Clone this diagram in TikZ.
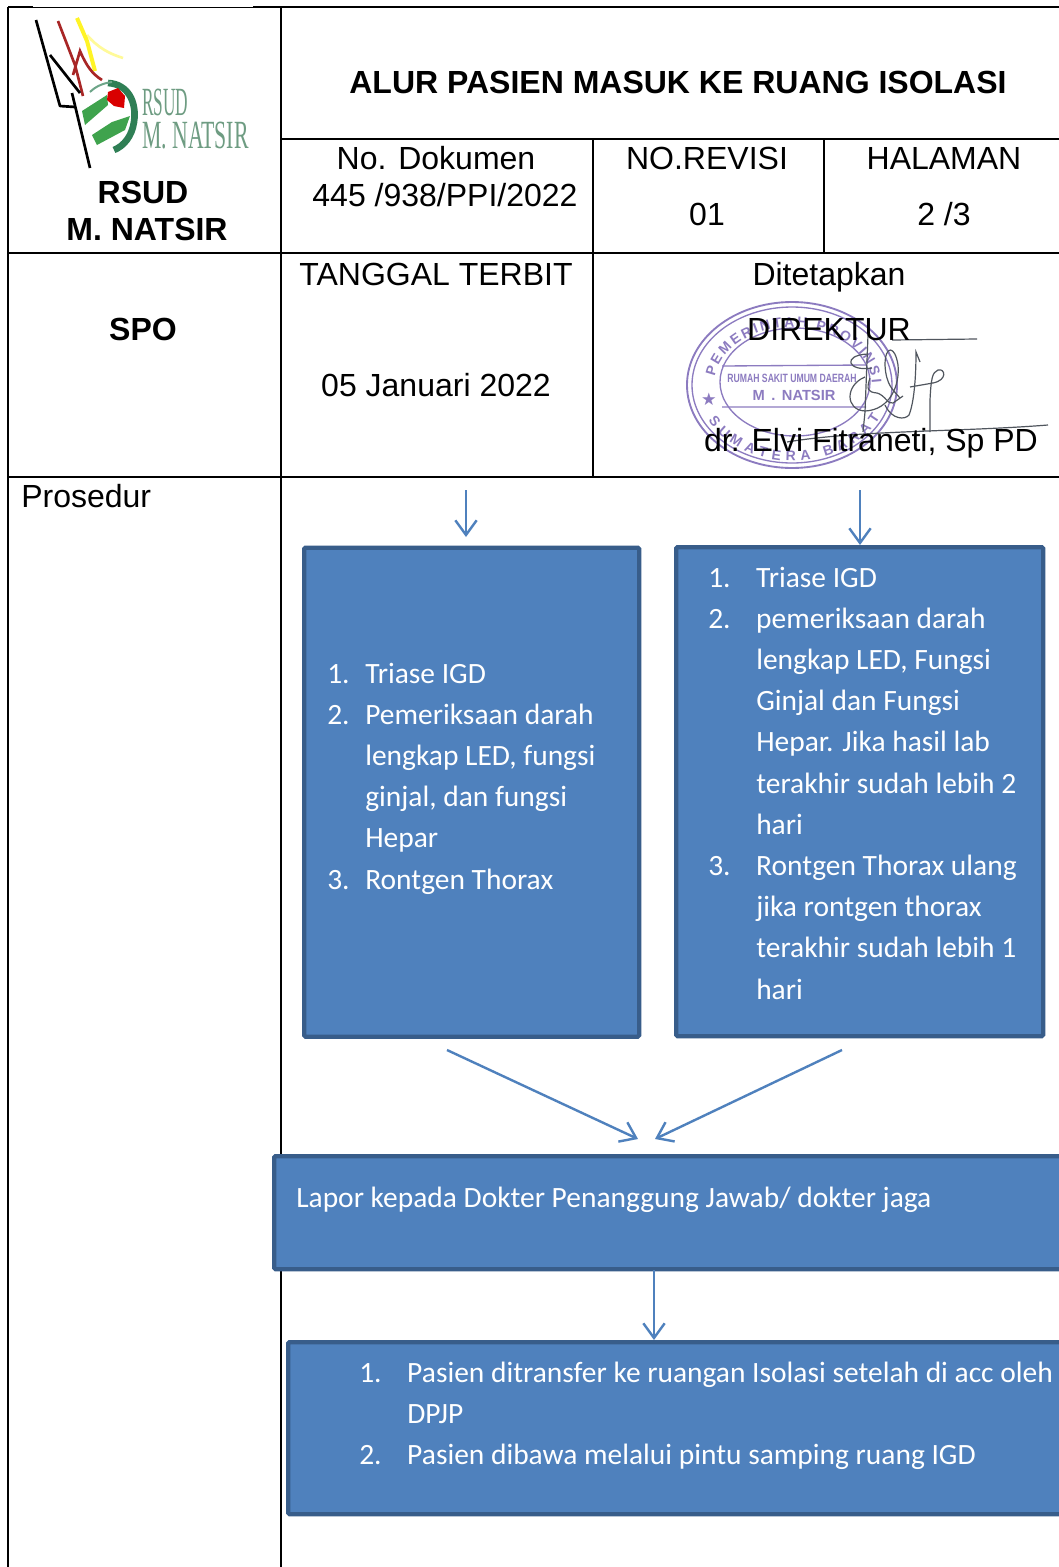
\documentclass[tikz,border=0pt]{standalone}
\usepackage{fontspec}
\setmainfont{Liberation Sans}
\newfontfamily\boxfont{Carlito}
\newfontfamily\logofont{Liberation Serif}
\usetikzlibrary{arrows.meta,decorations.text}
\definecolor{boxfill}{HTML}{4F81BD}
\definecolor{boxline}{HTML}{385D8A}
\definecolor{stamp}{HTML}{8C7BC0}
\definecolor{logogreen}{HTML}{3FA34D}
\definecolor{logodark}{HTML}{2F7F55}
\definecolor{logotext}{HTML}{6E9C82}
\definecolor{signink}{HTML}{50565E}
\newcommand{\stampfont}{\fontsize{10.5}{10.5}\selectfont\bfseries}
\newcommand{\boxlist}[2]{{\boxfont\fontsize{22.1}{30.9}\selectfont\begin{tabular}[t]{@{}p{#1}@{}l@{}}#2\end{tabular}}}

\begin{document}
\begin{tikzpicture}[x=0.75pt,y=-0.75pt,>={Straight Barb[length=11pt,width=16pt]}]
    \tikzstyle{cell}=[inner sep=0pt,anchor=base,font=\fontsize{24}{24}\selectfont]
    \tikzstyle{head}=[cell,font=\fontsize{24}{24}\selectfont\bfseries]
    \tikzstyle{rule}=[black,line width=1.8pt]
    \tikzstyle{flowbox}=[rectangle,rounded corners=1pt,draw=boxline,fill=boxfill,line width=3.2pt,anchor=north west]
    \tikzstyle{flowtext}=[inner sep=0pt,anchor=base west,text=white]
    \tikzstyle{flow}=[boxfill,line width=1.8pt,->]
    \tikzstyle{stampline}=[stamp,line width=1pt]
    \tikzstyle{stamptext}=[stamp,inner sep=0pt,font=\stampfont]
    \tikzstyle{sign}=[signink,line width=0.9pt]

    \useasboundingbox (0,0) rectangle (1059,1567);
    \clip (0,0) rectangle (1059,1567);
    \fill[white] (0,0) rectangle (1059,1567);

    % table
    \draw[rule] (8,7) -- (33,7) (253,7) -- (1059,7);
    \draw[black,line width=0.5pt] (33,7) -- (253,7);
    \draw[rule] (8,7) -- (8,1567);
    \draw[rule] (281,7) -- (281,1567);
    \draw[rule] (281,139) -- (1059,139);
    \draw[rule] (8,253) -- (1059,253);
    \draw[rule] (8,477) -- (1059,477);
    \draw[rule] (593,139) -- (593,477);
    \draw[rule] (824,139) -- (824,253);

    % logo
    \draw[yellow!40,line width=2pt] (87,35) .. controls (98,48) and (110,54) .. (123,58);
    \draw[yellow!85!white,line width=3pt] (77,18) -- (87,41) -- (95,71);
    \draw[red!60!black!85,line width=2pt] (58,21) -- (75,65) -- (83,96) (73,75) -- (80,51) .. controls (86,65) and (92,74) .. (102,80);
    \draw[black,line width=2pt,line join=round] (36,20) -- (60,106) -- (75,107) (50,55) -- (80,93) (72,93) -- (90,168);
    \fill[logogreen] (82,111) -- (85,125) -- (108,105) -- (107,95) -- cycle;
    \fill[logogreen] (92,135) -- (97,145) -- (125,130) -- (130,116) -- (112,122) -- cycle;
    \draw[logodark,line width=5pt] (108,83) .. controls (128,84) and (137,102) .. (134,122) .. controls (132,136) and (124,146) .. (114,150);
    \draw[logodark!70,line width=1.5pt] (90,92) .. controls (96,86) and (104,83) .. (112,82);
    \fill[red!85!black] (108,92) -- (118,88) -- (125,96) -- (124,108) -- (114,106) -- (107,100) -- cycle;
    \node (logoa) [inner sep=0pt,anchor=base west,text=logotext] at (142,115) {\logofont\fontsize{24}{24}\selectfont\scalebox{.54}[1.25]{RSUD}};
    \node (logob) [inner sep=0pt,anchor=base west,text=logotext] at (142,148) {\logofont\fontsize{24}{24}\selectfont\scalebox{.68}[1.25]{M. NATSIR}};

    % stamp
    \draw[stampline,line width=1.4pt] (792,385) ellipse [x radius=105,y radius=83];
    \draw[stampline] (792,385) ellipse [x radius=100,y radius=78];
    \draw[stampline] (795,382) ellipse [x radius=75,y radius=54];
    \draw[stampline] (722,366) -- (866,365) (722,407) -- (866,407);
    \path[decorate,decoration={text along path,text align=fit to path,text color=stamp,text={|\stampfont|PEMERINTAH PROVINSI}}] (793,385) ++(188:79 and 58) arc[start angle=188,end angle=358,x radius=79,y radius=58];
    \path[decorate,decoration={text along path,text align=fit to path,text color=stamp,text={|\stampfont|SUMATERA BARAT}}] (793,385) ++(152:96 and 76) arc[start angle=152,end angle=25,x radius=96,y radius=76];
    \node (stampa) [stamptext,font=\fontsize{9}{9}\selectfont\bfseries] at (792,378) {\scalebox{.72}[1]{RUMAH SAKIT UMUM DAERAH}};
    \node (stampb) [stamptext,font=\fontsize{11}{11}\selectfont\bfseries] at (794,395) {M\, .\, NATSIR};
    \node (stampc) [stamptext,font=\fontsize{13}{13}\selectfont] at (709,399) {\fontspec{DejaVu Sans}★};

    % signature
    \draw[sign] (892,340) -- (977,339);
    \draw[sign] (787,442) .. controls (860,430) and (960,432) .. (1048,425);
    \draw[sign] (868,335) -- (865,412) -- (863,432);
    \draw[sign] (872,368) .. controls (847,372) and (842,355) .. (868,354);
    \draw[sign] (865,377) .. controls (845,385) and (845,410) .. (865,411) .. controls (890,410) and (900,385) .. (898,365) .. controls (895,345) and (885,345) .. (885,365) .. controls (886,385) and (893,390) .. (900,398);
    \draw[sign] (870,378) .. controls (866,390) and (868,392) .. (877,393) .. controls (885,395) and (888,405) .. (893,403) -- (903,396);
    \draw[sign] (885,405) .. controls (892,420) and (905,420) .. (909,415) .. controls (915,400) and (916,370) .. (916,352) -- (920,362);
    \draw[sign] (910,387) -- (933,383) .. controls (948,380) and (945,368) .. (938,370) .. controls (932,372) and (931,380) .. (930,400) -- (930,432);

    % header texts
    \node (title) [head] at (678,93) {ALUR PASIEN MASUK KE RUANG ISOLASI};
    \node (rsud) [head] at (143,203) {RSUD};
    \node (natsir) [head] at (147,240) {M. NATSIR};
    \node (dok) [cell] at (436,169) {No. Dokumen};
    \node (nodok) [cell] at (445,206) {445 /938/PPI/2022};
    \node (revisi) [cell] at (707,169) {NO.REVISI};
    \node (norev) [cell] at (707,225) {01};
    \node (hal) [cell] at (944,169) {HALAMAN};
    \node (nohal) [cell] at (944,225) {2 /3};
    \node (spo) [head] at (143,340) {SPO};
    \node (terbit) [cell] at (436,285) {TANGGAL TERBIT};
    \node (tgl) [cell] at (436,396) {05 Januari 2022};
    \node (tetap) [cell] at (829,285) {Ditetapkan};
    \node (dir) [cell] at (829,340) {DIREKTUR};
    \node (dokter) [cell] at (871,451) {dr. Elvi Fitraneti, Sp PD};
    \node (prosedur) [cell,anchor=base west] at (21,507) {Prosedur};

    % flow boxes
    \node (boxa) [flowbox,minimum width=335*0.75pt,minimum height=489*0.75pt] at (302,545.5) {};
    \node (boxb) [flowbox,minimum width=367*0.75pt,minimum height=489*0.75pt] at (674,545) {};
    \node (boxc) [flowbox,minimum width=810*0.75pt,minimum height=113*0.75pt] at (272,1154) {};
    \node (boxd) [flowbox,minimum width=790*0.75pt,minimum height=172*0.75pt] at (286,1340) {};

    \node (lista) [flowtext] at (327,683) {\boxlist{28.5pt}{1.&Triase IGD\\2.&Pemeriksaan darah\\&lengkap LED, fungsi\\&ginjal, dan fungsi\\&Hepar\\3.&Rontgen Thorax}};
    \node (listb) [flowtext] at (708,587) {\boxlist{36pt}{1.&Triase IGD\\2.&pemeriksaan darah\\&lengkap LED, Fungsi\\&Ginjal dan Fungsi\\&Hepar. Jika hasil lab\\&terakhir sudah lebih 2\\&hari\\3.&Rontgen Thorax ulang\\&jika rontgen thorax\\&terakhir sudah lebih 1\\&hari}};
    \node (listc) [flowtext] at (296,1207) {\boxfont\fontsize{22.1}{30.9}\selectfont Lapor kepada Dokter Penanggung Jawab/ dokter jaga};
    \node (listd) [flowtext] at (359,1382) {\boxlist{36pt}{1.&Pasien ditransfer ke ruangan Isolasi setelah di acc oleh\\&DPJP\\2.&Pasien dibawa melalui pintu samping ruang IGD}};

    % arrows
    \coordinate (ina) at (466,490);
    \coordinate (inatip) at (466,537);
    \coordinate (inb) at (860,490);
    \coordinate (inbtip) at (860,545);
    \coordinate (outa) at (447,1050);
    \coordinate (outb) at (842,1050);
    \coordinate (tipa) at (638,1139);
    \coordinate (tipb) at (655,1139);
    \coordinate (outc) at (654,1270);
    \coordinate (ind) at (654,1340);
    \draw[flow] (ina) -- (inatip);
    \draw[flow] (inb) -- (inbtip);
    \draw[flow] (outa) -- (tipa);
    \draw[flow] (outb) -- (tipb);
    \draw[flow] (outc) -- (ind);
\end{tikzpicture}
\end{document}
